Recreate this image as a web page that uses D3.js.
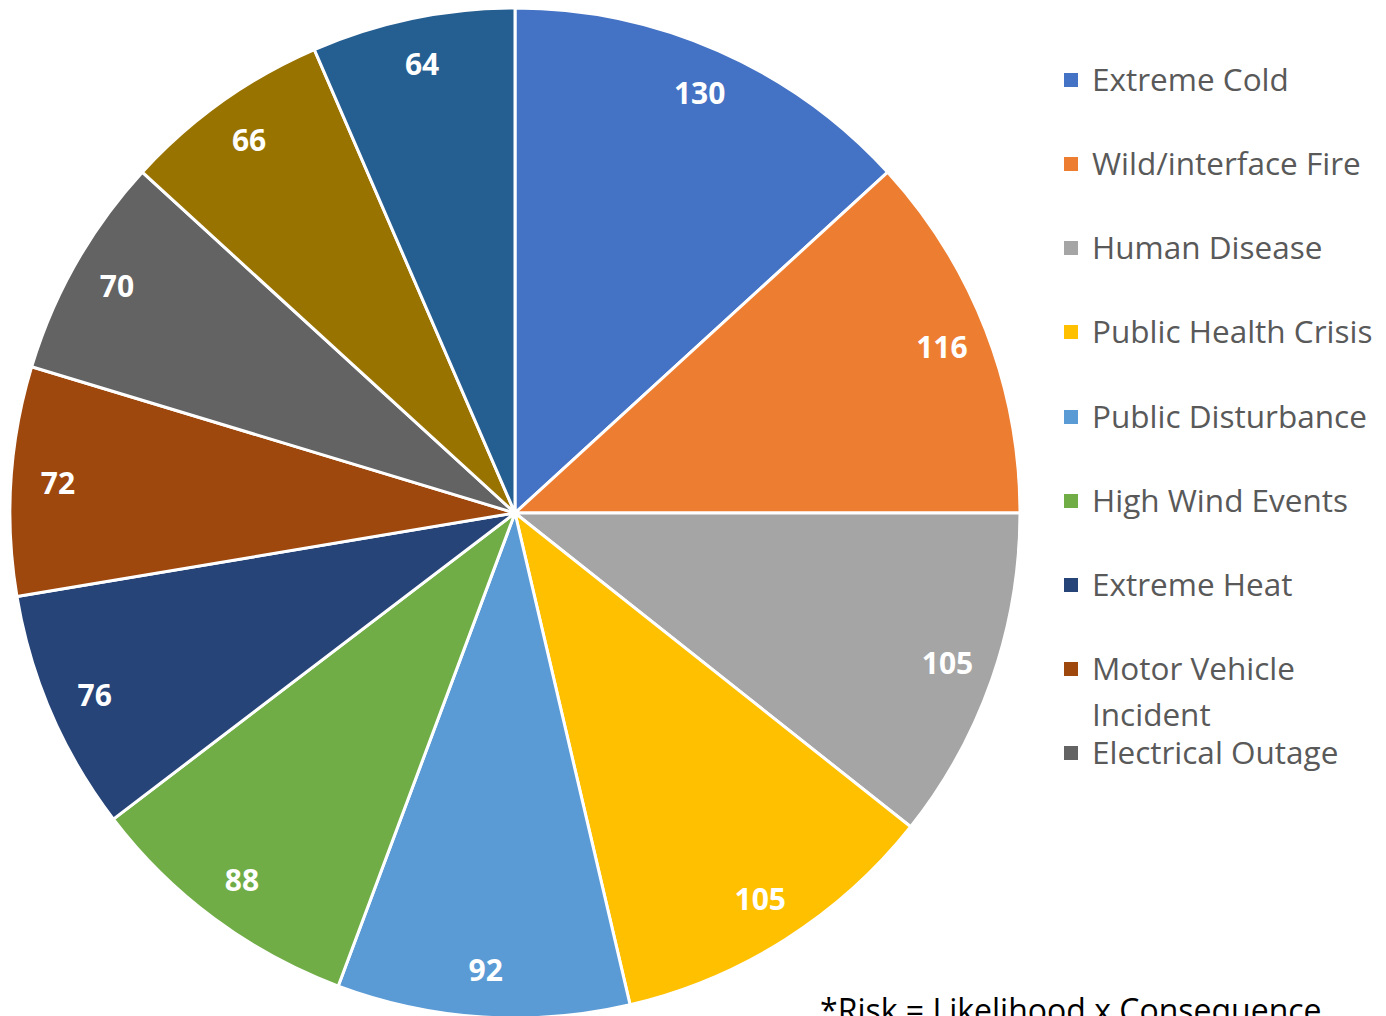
<html>
  <head>
    <title>Risk</title>
    <meta charset="utf-8" />
    <script src="https://cdnjs.cloudflare.com/ajax/libs/d3/7.6.1/d3.min.js"></script>
    <style>
      body { margin: 0; background: #fff; }
      svg { display: block; }
    </style>
  </head>
  <body>
    <svg width="1386" height="1016"></svg>
  </body>

  <script>
    // hazards, in slice order (last two are not shown in the legend)
    const hazards = [
      "Extreme Cold",
      "Wild/interface Fire",
      "Human Disease",
      "Public Health Crisis",
      "Public Disturbance",
      "High Wind Events",
      "Extreme Heat",
      "Motor Vehicle Incident",
      "Electrical Outage",
      "Hazard 10",
      "Hazard 11",
    ];
    const risk = [130, 116, 105, 105, 92, 88, 76, 72, 70, 66, 64];
    const colors = [
      "#4472C4", "#ED7D31", "#A5A5A5", "#FFC000", "#5B9BD5", "#70AD47",
      "#264478", "#9E480E", "#636363", "#997300", "#255E91",
    ];
    const legendShown = 9;

    const svg = d3.select("svg");
    const font = "Open Sans, sans-serif";
    const cx = 515, cy = 513, r = 505;

    const data = hazards.map((h, i) => ({ name: h, value: risk[i] }));
    const pie = d3.pie().sort(null).value((d) => d.value);
    const arc = d3.arc().innerRadius(0).outerRadius(r);
    const labelArc = d3.arc().innerRadius(458).outerRadius(458);
    const color = d3.scaleOrdinal().domain(hazards).range(colors);

    const g = svg.append("g").attr("transform", `translate(${cx},${cy})`);
    const arcs = pie(data);

    g.selectAll("path")
      .data(arcs)
      .join("path")
      .attr("d", arc)
      .attr("fill", (d) => color(d.data.name))
      .attr("stroke", "#fff")
      .attr("stroke-width", 3);

    g.selectAll("text")
      .data(arcs)
      .join("text")
      .attr("transform", (d) => `translate(${labelArc.centroid(d)})`)
      .attr("text-anchor", "middle")
      .attr("dy", "0.35em")
      .attr("fill", "#fff")
      .attr("font-family", font)
      .attr("font-weight", "bold")
      .attr("font-size", 30)
      .text((d) => d.data.value);

    // legend
    const legendY = [80, 164, 248, 332, 417, 501, 585, 669, 753];
    const leg = svg.append("g");
    hazards.slice(0, legendShown).forEach((h, i) => {
      const row = leg.append("g").attr("transform", `translate(1064,${legendY[i]})`);
      row.append("rect")
        .attr("x", 0).attr("y", -7)
        .attr("width", 14).attr("height", 14)
        .attr("fill", colors[i]);
      const t = row.append("text")
        .attr("x", 28)
        .attr("dy", "0.35em")
        .attr("fill", "#595959")
        .attr("font-family", font)
        .attr("font-size", 31.5);
      if (h === "Motor Vehicle Incident") {
        t.append("tspan").attr("x", 28).text("Motor Vehicle");
        t.append("tspan").attr("x", 28).attr("dy", 46).text("Incident");
      } else {
        t.text(h);
      }
    });

    svg.append("text")
      .attr("x", 820)
      .attr("y", 1022)
      .attr("font-family", font)
      .attr("font-size", 32)
      .attr("fill", "#000")
      .text("*Risk = Likelihood x Consequence");
  </script>
</html>
